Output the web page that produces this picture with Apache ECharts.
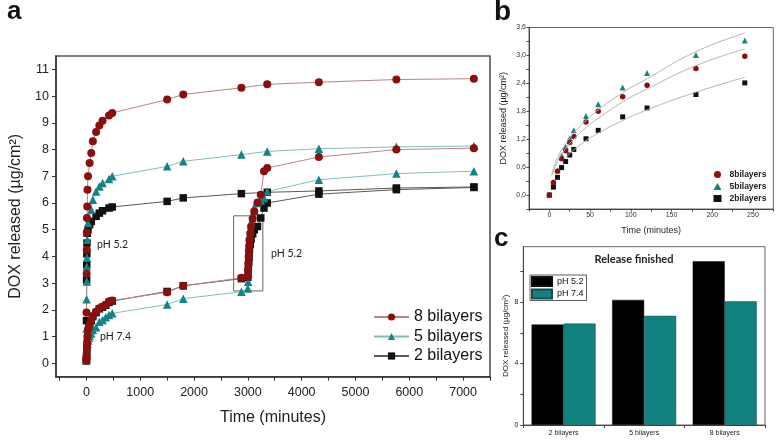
<!DOCTYPE html>
<html>
<head>
<meta charset="utf-8">
<script src="https://cdn.jsdelivr.net/npm/echarts@6/dist/echarts.min.js"></script>
<style>
html,body{margin:0;padding:0;background:#fff;}
#c{width:778px;height:442px;}
</style>
</head>
<body>
<div id="c"></div>
<script>
// ---------- Panel a : first set (pH 5.2 from start) ----------
const tA8_52 = [0,2,4,6,8,10,15,20,30,60,90,120,180,240,300,420,480,1500,1800,2880,3360,4320,5760,7200];
const vA8_52 = [0.2,1.9,3.35,4.25,4.9,5.44,5.87,6.5,7.0,7.5,7.87,8.31,8.66,8.9,9.08,9.27,9.37,9.87,10.06,10.31,10.44,10.52,10.62,10.65];
const tA5_52 = [0,2,4,6,8,10,15,30,90,120,180,240,300,420,480,1500,1800,2880,3360,4320,5760,7200];
const vA5_52 = [0.15,1.3,2.4,3.06,3.62,3.95,4.62,5.25,5.75,6.12,6.43,6.62,6.75,6.9,7.0,7.37,7.56,7.81,7.93,8.03,8.1,8.13];
const tA2_52 = [0,2,4,6,8,10,15,30,60,90,180,240,300,420,480,1500,1800,2880,3360,4320,5760,7200];
const vA2_52 = [0.15,1.6,3.12,3.69,4.1,4.5,4.87,5.0,5.19,5.31,5.5,5.62,5.71,5.81,5.85,6.06,6.19,6.35,6.4,6.45,6.56,6.6];
// ---------- Panel a : second set (pH 7.4, then pH 5.2) ----------
const tA_74 = [0,5,10,15,20,30,45,60,90,120,180,240,300,360,420,480,1500,1800,2880,3000,3005,3010,3015,3020,3025,3030,3045,3060,3090,3120,3180,3240,3300,3360,4320,5760,7200];
const vA8_74 = [0.1,0.31,0.56,0.75,1.0,1.25,1.35,1.44,1.62,1.77,1.93,2.06,2.12,2.19,2.31,2.35,2.66,2.9,3.2,3.25,3.5,3.75,4.0,4.2,4.4,4.6,4.85,5.1,5.4,5.68,6.02,6.31,7.19,7.31,7.72,8.0,8.05];
const vA5_74 = [0.1,0.3,0.5,0.65,0.75,0.85,0.95,1.02,1.12,1.25,1.35,1.56,1.62,1.72,1.81,1.87,2.2,2.42,2.68,2.8,3.05,3.4,3.8,4.2,4.5,4.8,5.05,5.3,5.6,5.85,6.0,6.1,6.19,6.43,6.87,7.1,7.19];
const vA2_74 = [0.1,0.3,0.55,0.72,0.95,1.2,1.33,1.42,1.6,1.75,1.9,2.04,2.1,2.17,2.28,2.33,2.69,2.9,3.17,3.22,3.4,3.6,3.8,3.95,4.1,4.25,4.45,4.65,4.85,5.0,5.12,5.44,5.81,6.0,6.33,6.5,6.58];
const namesA = ['8 bilayers','5 bilayers','2 bilayers'];
const xTicksA = [-500,0,500,1000,1500,2000,2500,3000,3500,4000,4500,5000,5500,6000,6500,7000,7500];
const xLabelsA = [0,1000,2000,3000,4000,5000,6000,7000];
const yTicksA = [0,1,2,3,4,5,6,7,8,9,10,11];

// ---------- Panel b ----------
const tB = [0,5,10,15,20,25,30,45,60,90,120,180,240];
const vB8 = [0,0.27,0.51,0.78,0.95,1.13,1.26,1.57,1.8,2.11,2.36,2.72,2.98];
const vB5 = [0,0.28,0.53,0.85,1.04,1.22,1.39,1.7,1.95,2.31,2.62,3.01,3.32];
const vB2 = [0,0.17,0.38,0.59,0.72,0.86,0.98,1.21,1.39,1.68,1.87,2.16,2.41];
const tFit = [3,10,20,30,45,60,90,120,180,240];
const fit8 = [0.41,0.72,1.0,1.2,1.45,1.65,2.0,2.28,2.78,3.14];
const fit5 = [0.45,0.8,1.1,1.33,1.6,1.83,2.2,2.5,3.08,3.48];
const tFit2 = [20,30,45,60,90,120,180,240];
const fit2 = [0.8,0.97,1.17,1.33,1.6,1.83,2.21,2.53];
const namesB = ['8bilayers','5bilayers','2bilayers'];
const xTicksB = [-25,0,25,50,75,100,125,150,175,200,225,250,275];
const xLabelsB = [0,50,100,150,200,250];
const yTicksB = [-0.3,0,0.3,0.6,0.9,1.2,1.5,1.8,2.1,2.4,2.7,3.0,3.3,3.6];
const yLabelsB = [0,0.6,1.2,1.8,2.4,3.0,3.6];

// ---------- Panel c ----------
const catsC = ['2 bilayers','5 bilayers','8 bilayers'];
const vC52 = [6.54,8.14,10.65];
const vC74 = [6.6,7.1,8.05];
const namesC = ['pH 5.2','pH 7.4'];
const yTicksC = [0,2,4,6,8,10];
const yLabelsC = [0,4,8];

const zip = (t, v) => t.map((x, i) => [x, v[i]]);
const F = '"Liberation Sans", Arial, sans-serif';
const RED = '#8a1010', REDL = '#bb8585';
const TEAL = '#138483', TEALL = '#80bebe';
const BLK = '#111', BLKL = '#5a5a5a';
const plain = v => String(v);

function lineA(name, t, v, sym, size, col, lcol, extra) {
  return Object.assign({
    type: 'line', name: name, xAxisIndex: 0, yAxisIndex: 0,
    data: zip(t, v), symbol: sym, symbolSize: size, showAllSymbol: true,
    itemStyle: { color: col, opacity: 1 }, lineStyle: { color: lcol, width: 1 },
    emphasis: { disabled: true }, z: 3
  }, extra || {});
}

const chart = echarts.init(document.getElementById('c'), null, { renderer: 'canvas' });
const option = {
  animation: false,
  backgroundColor: '#fff',
  textStyle: { fontFamily: F },
  grid: [
    { left: 53.5, top: 56, width: 436.5, height: 320.7, show: true, borderColor: '#555', borderWidth: 1.6 },
    { left: 529, top: 27.5, width: 244.3, height: 181.5, show: true, borderColor: '#666', borderWidth: 1 },
    { left: 523.3, top: 246.7, width: 241.7, height: 178.3, show: true, borderColor: '#666', borderWidth: 1 }
  ],
  xAxis: [
    { type: 'value', gridIndex: 0, min: -565, max: 7500,
      axisLine: { show: true, onZero: false, lineStyle: { color: '#333', width: 1.5 } },
      axisTick: { show: true, customValues: xTicksA, length: 4, lineStyle: { color: '#333' } },
      axisLabel: { customValues: xLabelsA, formatter: plain, fontSize: 12.5, color: '#222', margin: 9, fontFamily: F },
      splitLine: { show: false },
      name: 'Time (minutes)', nameLocation: 'middle', nameGap: 33,
      nameTextStyle: { fontSize: 16, color: '#222', fontFamily: F } },
    { type: 'value', gridIndex: 1, min: -25, max: 275,
      axisLine: { show: true, onZero: false, lineStyle: { color: '#444', width: 1 } },
      axisTick: { show: true, customValues: xTicksB, length: 2.5, lineStyle: { color: '#444' } },
      axisLabel: { customValues: xLabelsB, formatter: plain, fontSize: 7, color: '#333', margin: 3, fontFamily: F },
      splitLine: { show: false },
      name: 'Time (minutes)', nameLocation: 'middle', nameGap: 17,
      nameTextStyle: { fontSize: 9, color: '#222', fontFamily: F } },
    { type: 'category', gridIndex: 2, data: catsC,
      axisLine: { show: true, onZero: false, lineStyle: { color: '#444', width: 1 } },
      axisTick: { show: true, length: 3, lineStyle: { color: '#444' } },
      axisLabel: { fontSize: 7, color: '#222', margin: 5, fontFamily: F },
      splitLine: { show: false } }
  ],
  yAxis: [
    { type: 'value', gridIndex: 0, min: -0.5, max: 11.5,
      axisLine: { show: true, onZero: false, lineStyle: { color: '#333', width: 1.5 } },
      axisTick: { show: true, customValues: yTicksA, length: 4, lineStyle: { color: '#333' } },
      axisLabel: { customValues: yTicksA, formatter: plain, fontSize: 12.5, color: '#222', margin: 7, fontFamily: F },
      splitLine: { show: false },
      name: 'DOX released (µg/cm²)', nameLocation: 'middle', nameGap: 32,
      nameTextStyle: { fontSize: 16, color: '#222', fontFamily: F } },
    { type: 'value', gridIndex: 1, min: -0.3, max: 3.6,
      axisLine: { show: true, onZero: false, lineStyle: { color: '#444', width: 1 } },
      axisTick: { show: true, customValues: yTicksB, length: 2.5, lineStyle: { color: '#444' } },
      axisLabel: { customValues: yLabelsB, fontSize: 7, color: '#333', margin: 3, fontFamily: F,
        formatter: v => (Math.round(v * 10) / 10).toFixed(1).replace('.', ',') },
      splitLine: { show: false },
      name: 'DOX released (µg/cm²)', nameLocation: 'middle', nameGap: 21,
      nameTextStyle: { fontSize: 9, color: '#222', fontFamily: F } },
    { type: 'value', gridIndex: 2, min: 0, max: 11.6,
      axisLine: { show: true, onZero: false, lineStyle: { color: '#444', width: 1 } },
      axisTick: { show: true, customValues: yTicksC, length: 3, lineStyle: { color: '#444' } },
      axisLabel: { customValues: yLabelsC, formatter: plain, fontSize: 7, color: '#222', margin: 5, fontFamily: F },
      splitLine: { show: false },
      name: 'DOX released (µg/cm²)', nameLocation: 'middle', nameGap: 14,
      nameTextStyle: { fontSize: 8, color: '#222', fontFamily: F } }
  ],
  legend: [
    { data: namesA, orient: 'vertical', left: 373, top: 309, padding: 0,
      itemWidth: 35, itemHeight: 9, itemGap: 3.5,
      textStyle: { fontSize: 16, color: '#111', fontFamily: F } },
    { data: namesB, orient: 'vertical', left: 713.5, top: 170, padding: 0,
      itemWidth: 8, itemHeight: 7, itemGap: 3,
      textStyle: { fontSize: 8.5, fontWeight: 'bold', color: '#222', fontFamily: F, padding: [0, 0, 0, 3] } },
    { data: namesC, orient: 'vertical', left: 530, top: 275, padding: [1, 3, 1, 1],
      itemWidth: 20, itemHeight: 9, itemGap: 1.5, icon: 'rect',
      borderColor: '#333', borderWidth: 0.8,
      textStyle: { fontSize: 9, color: '#111', fontFamily: F } }
  ],
  graphic: [
    { type: 'text', x: 7, y: 12, style: { text: 'a', font: 'bold 26px ' + F, fill: '#111', verticalAlign: 'middle' } },
    { type: 'text', x: 494, y: 12.5, style: { text: 'b', font: 'bold 28px ' + F, fill: '#111', verticalAlign: 'middle' } },
    { type: 'text', x: 494, y: 238.5, style: { text: 'c', font: 'bold 26px ' + F, fill: '#111', verticalAlign: 'middle' } },
    { type: 'text', x: 97, y: 245, style: { text: 'pH 5.2', font: '10.5px Lato, "Open Sans", sans-serif', fill: '#222', verticalAlign: 'middle' } },
    { type: 'text', x: 100, y: 337, style: { text: 'pH 7.4', font: '10.5px Lato, "Open Sans", sans-serif', fill: '#222', verticalAlign: 'middle' } },
    { type: 'text', x: 271, y: 253.5, style: { text: 'pH 5.2', font: '10.5px Lato, "Open Sans", sans-serif', fill: '#222', verticalAlign: 'middle' } },
    { type: 'text', x: 634, y: 259.5, style: { text: 'Release finished', font: 'bold 11px Lato, "Open Sans", sans-serif', fill: '#222', align: 'center', verticalAlign: 'middle' } }
  ],
  series: [
    lineA(namesA[2], tA2_52, vA2_52, 'rect', 7.5, BLK, BLKL),
    lineA(namesA[2], tA_74, vA2_74, 'rect', 7.5, BLK, BLKL),
    lineA(namesA[1], tA5_52, vA5_52, 'triangle', 8.5, TEAL, TEALL),
    lineA(namesA[1], tA_74, vA5_74, 'triangle', 8.5, TEAL, TEALL),
    lineA(namesA[0], tA8_52, vA8_52, 'circle', 8, RED, REDL),
    lineA(namesA[0], tA_74, vA8_74, 'circle', 8, RED, REDL, {
      markArea: { silent: true, itemStyle: { color: 'rgba(0,0,0,0)', borderColor: '#666', borderWidth: 1 },
        data: [[{ coord: [2736, 5.52] }, { coord: [3279, 2.71] }]] } }),
    // panel b fitted curves
    { type: 'line', name: 'fit8', xAxisIndex: 1, yAxisIndex: 1, data: zip(tFit, fit8), smooth: true, symbol: 'none', lineStyle: { color: '#b4b4b4', width: 1 }, emphasis: { disabled: true } },
    { type: 'line', name: 'fit5', xAxisIndex: 1, yAxisIndex: 1, data: zip(tFit, fit5), smooth: true, symbol: 'none', lineStyle: { color: '#b4b4b4', width: 1 }, emphasis: { disabled: true } },
    { type: 'line', name: 'fit2', xAxisIndex: 1, yAxisIndex: 1, data: zip(tFit2, fit2), smooth: true, symbol: 'none', lineStyle: { color: '#b4b4b4', width: 1 }, emphasis: { disabled: true } },
    // panel b points
    { type: 'scatter', name: namesB[2], xAxisIndex: 1, yAxisIndex: 1, data: zip(tB, vB2), symbol: 'rect', symbolSize: 5, itemStyle: { color: BLK, opacity: 1 }, emphasis: { disabled: true } },
    { type: 'scatter', name: namesB[1], xAxisIndex: 1, yAxisIndex: 1, data: zip(tB, vB5), symbol: 'triangle', symbolSize: 6, itemStyle: { color: TEAL, opacity: 1 }, emphasis: { disabled: true } },
    { type: 'scatter', name: namesB[0], xAxisIndex: 1, yAxisIndex: 1, data: zip(tB, vB8), symbol: 'circle', symbolSize: 5.5, itemStyle: { color: RED, opacity: 1 }, emphasis: { disabled: true } },
    // panel c bars
    { type: 'bar', name: namesC[0], xAxisIndex: 2, yAxisIndex: 2, data: vC52, barGap: '0%', barCategoryGap: '20.5%',
      itemStyle: { color: '#000', borderColor: '#111', borderWidth: 0.5 }, emphasis: { disabled: true } },
    { type: 'bar', name: namesC[1], xAxisIndex: 2, yAxisIndex: 2, data: vC74, barGap: '0%', barCategoryGap: '20.5%',
      itemStyle: { color: '#128281', borderColor: '#1a4a4a', borderWidth: 0.5 }, emphasis: { disabled: true } }
  ]
};
chart.setOption(option);
</script>
</body>
</html>
